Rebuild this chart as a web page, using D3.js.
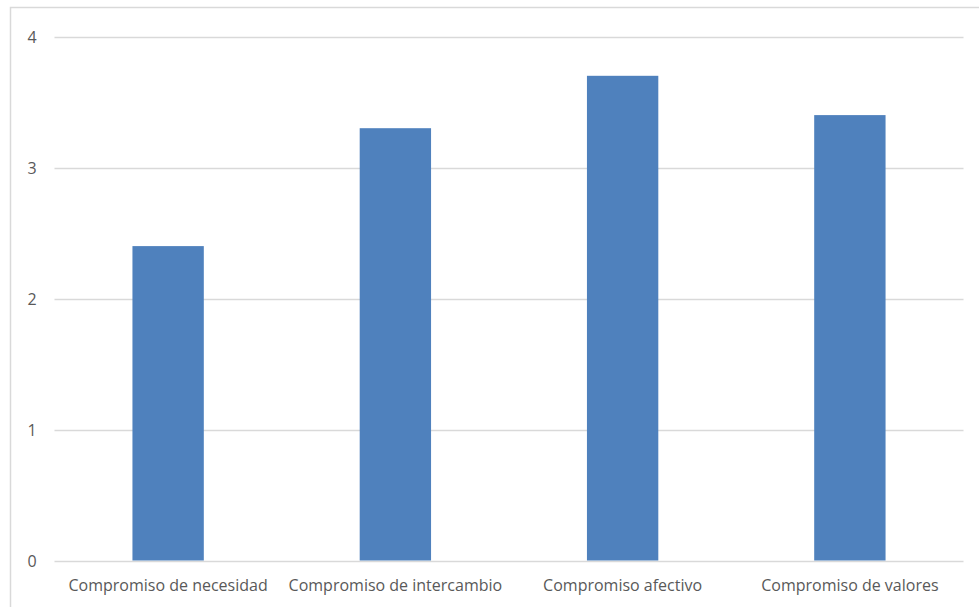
<!DOCTYPE html>
<html><head><meta charset="utf-8">
<script src="https://cdn.jsdelivr.net/npm/d3@7"></script>
<style>body{margin:0;background:#fff;} svg{display:block;} text{font-family:"Open Sans",sans-serif;fill:#595959;}</style>
</head><body>
<svg id="c" width="979" height="607"></svg>
<script>
const categories = ["Compromiso de necesidad","Compromiso de intercambio","Compromiso afectivo","Compromiso de valores"];
const values = [2.4, 3.3, 3.7, 3.4];
const yTicks = [0,1,2,3,4];

const svg = d3.select("#c");
svg.append("rect").attr("x",10.5).attr("y",7.5).attr("width",990).attr("height",620)
  .attr("fill","#fff").attr("stroke","#d9d9d9").attr("stroke-width",1.5);

const x = d3.scaleBand().domain(categories).range([54.5,963.5]).padding(0);
const y = d3.scaleLinear().domain([0,4]).range([560.5,36.5]);

const g = svg.append("g");
g.selectAll("line.grid").data(yTicks).join("line")
  .attr("x1",54.5).attr("x2",963.5)
  .attr("y1",d=>Math.round(y(d))+0.5).attr("y2",d=>Math.round(y(d))+0.5)
  .attr("stroke","#d9d9d9").attr("stroke-width",1.3);

const bw = x.step()*0.314;
g.selectAll("rect.bar").data(values).join("rect")
  .attr("x",(d,i)=>x(categories[i])+x.bandwidth()/2-bw/2)
  .attr("width",bw)
  .attr("y",d=>y(d)).attr("height",d=>y(0)-y(d))
  .attr("fill","#4F81BD");

g.selectAll("text.yt").data(yTicks).join("text")
  .attr("x",32).attr("y",d=>y(d)+6.5).attr("text-anchor","middle")
  .attr("font-size",16).text(d=>d);

g.selectAll("text.xt").data(categories).join("text")
  .attr("x",d=>x(d)+x.bandwidth()/2).attr("y",591).attr("text-anchor","middle")
  .attr("font-size",16).text(d=>d);
</script>
</body></html>
